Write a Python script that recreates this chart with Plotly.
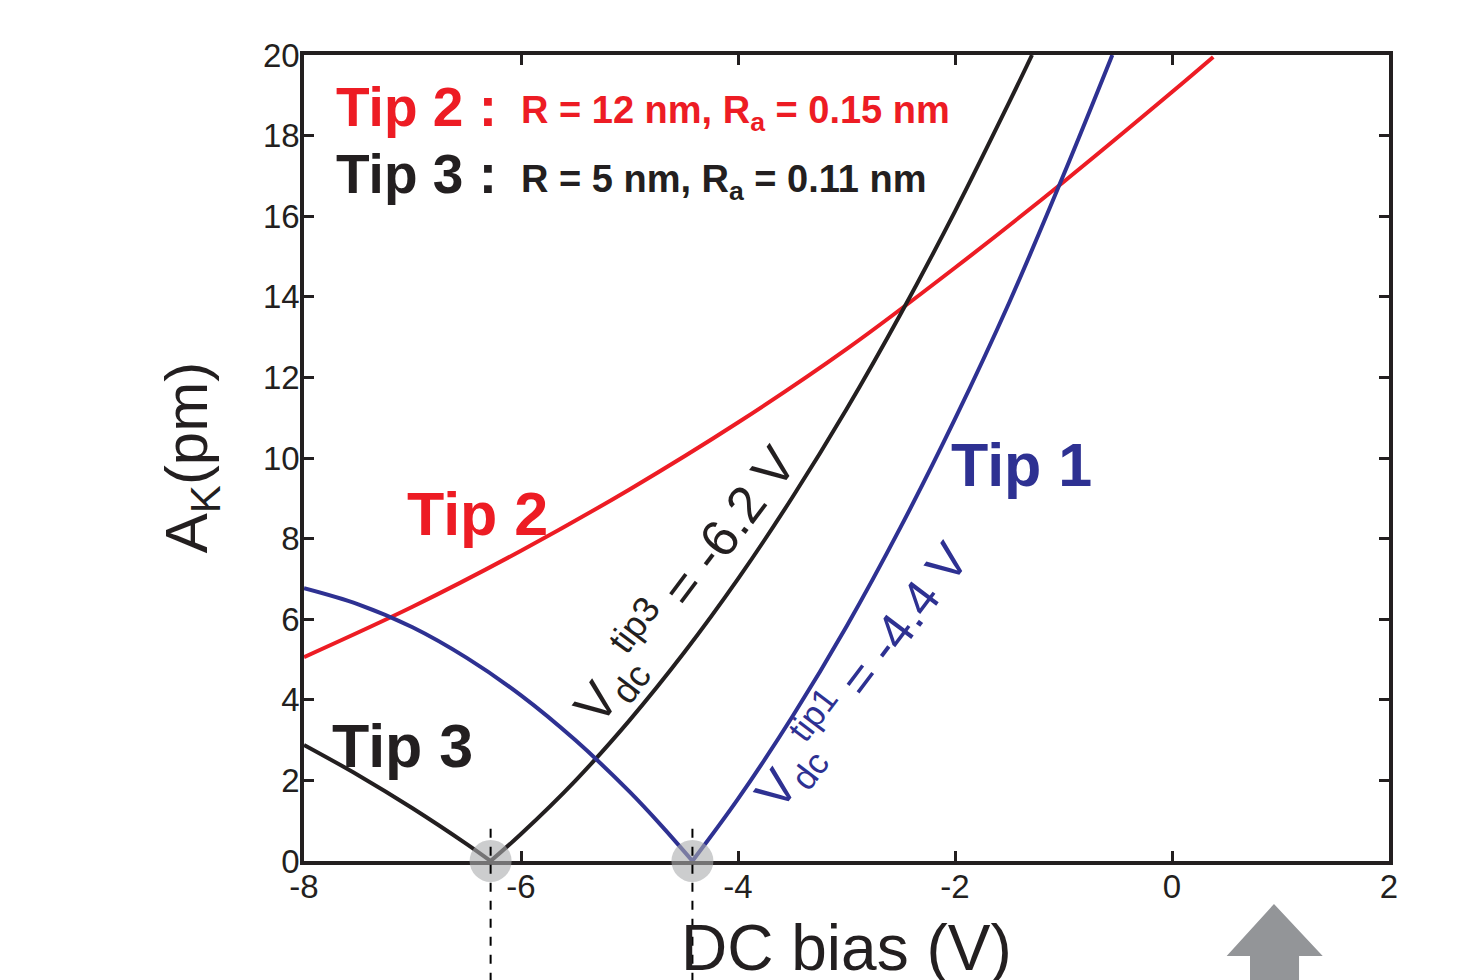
import plotly.graph_objects as go

# ---- data ----
tip1_left_x = [-8.0, -7.5, -7.0, -6.5, -6.0, -5.5, -5.0, -4.7, -4.42]
tip1_left_y = [6.77, 6.37, 5.80, 5.04, 4.11, 3.00, 1.72, 0.86, 0.0]
tip1_right_x = [-4.42, -4.0, -3.5, -3.0, -2.5, -2.0, -1.5, -1.0, -0.55]
tip1_right_y = [0.0, 1.54, 3.58, 5.82, 8.29, 10.97, 13.86, 17.02, 20.0]

tip3_left_x = [-8.0, -7.5, -7.0, -6.5, -6.28]
tip3_left_y = [2.88, 2.13, 1.31, 0.42, 0.0]
tip3_right_x = [-6.28, -6.0, -5.5, -5.0, -4.5, -4.0, -3.5, -3.0, -2.5, -2.0, -1.5, -1.29]
tip3_right_y = [0.0, 0.67, 1.99, 3.49, 5.16, 7.00, 9.02, 11.21, 13.58, 16.12, 18.83, 20.0]

tip2_x = [-8.0, -7.0, -6.0, -5.0, -4.0, -3.0, -2.0, -1.0, 0.0, 0.38]
tip2_y = [5.06, 6.31, 7.70, 9.22, 10.88, 12.70, 14.72, 16.85, 19.08, 19.95]

vmin_x = [-6.28, -4.42]
vmin_y = [0.0, 0.0]

x_ticks = [-8, -6, -4, -2, 0, 2]
y_ticks = [0, 2, 4, 6, 8, 10, 12, 14, 16, 18, 20]

RED = "#ED1C24"
BLUE = "#2E3192"
BLACK = "#231F20"
FONT = "Liberation Sans"

fig = go.Figure()

def add_line(x, y, color):
    fig.add_trace(go.Scatter(x=x, y=y, mode="lines",
                             line=dict(color=color, width=4, shape="spline", smoothing=1.0),
                             showlegend=False, hoverinfo="skip"))

add_line(tip2_x, tip2_y, RED)
add_line(tip3_left_x, tip3_left_y, BLACK)
add_line(tip3_right_x, tip3_right_y, BLACK)
add_line(tip1_left_x, tip1_left_y, BLUE)
add_line(tip1_right_x, tip1_right_y, BLUE)

fig.add_trace(go.Scatter(x=vmin_x, y=vmin_y, mode="markers", cliponaxis=False,
                         marker=dict(size=42, color="rgb(170,171,174)", opacity=0.6, line=dict(width=0)),
                         showlegend=False, hoverinfo="skip"))

# dashed vertical markers at the minima
for xv in vmin_x:
    fig.add_shape(type="line", xref="x", yref="paper", x0=xv, x1=xv, y0=0.040, y1=-0.17,
                  line=dict(color="black", width=2, dash="dash"))

# grey arrow at the bottom right
fig.add_shape(type="path", xref="paper", yref="paper",
              path="M 0.8940,-0.0533 L 0.9389,-0.1179 L 0.9171,-0.1179 L 0.9171,-0.17 "
                   "L 0.8719,-0.17 L 0.8719,-0.1179 L 0.8504,-0.1179 Z",
              fillcolor="#939598", line=dict(width=0))

def ann(text, x, y, size, color, bold=False, angle=0, xanchor="center", ref="data"):
    t = f"<b>{text}</b>" if bold else text
    d = dict(text=t, x=x, y=y, showarrow=False, textangle=angle,
             xanchor=xanchor, yanchor="middle",
             font=dict(family=FONT, size=size, color=color))
    if ref == "paper":
        d.update(xref="paper", yref="paper")
    else:
        d.update(xref="x", yref="y")
    fig.add_annotation(**d)

ann("Tip 2 :", -7.72, 18.72, 55, RED, bold=True, xanchor="left")
ann("R = 12 nm, R<sub>a</sub> = 0.15 nm", -6.02, 18.55, 38, RED, bold=True, xanchor="left")
ann("Tip 3 :", -7.72, 17.05, 55, BLACK, bold=True, xanchor="left")
ann("R = 5 nm, R<sub>a</sub> = 0.11 nm", -6.02, 16.85, 38, BLACK, bold=True, xanchor="left")

ann("Tip 2", -6.40, 8.6, 61, RED, bold=True)
ann("Tip 1", -1.39, 9.83, 61, BLUE, bold=True)
ann("Tip 3", -7.09, 2.85, 61, BLACK, bold=True)

ann("V<sub>dc</sub><sup>tip3</sup> = -6.2 V", -4.49, 6.85, 52, BLACK, angle=-53)
ann("V<sub>dc</sub><sup>tip1</sup> = -4.4 V", -2.86, 4.6, 50, BLUE, angle=-53)

# axis titles
ann("A<sub>K</sub>(pm)", -0.104, 0.5, 60, BLACK, angle=-90, ref="paper")
ann("DC bias (V)", 0.5, -0.108, 64, BLACK, ref="paper")

axis_common = dict(showgrid=False, zeroline=False, showline=True, linecolor=BLACK, linewidth=3.5,
                   mirror="ticks", ticks="inside", ticklen=10, tickwidth=2.5, tickcolor=BLACK,
                   tickfont=dict(family=FONT, size=33, color=BLACK), layer="below traces",
                   ticklabelstandoff=-6)

fig.update_xaxes(range=[-8, 2], tickmode="array", tickvals=x_ticks,
                 ticktext=[str(v) for v in x_ticks], **axis_common)
fig.update_yaxes(range=[0, 20], tickmode="array", tickvals=y_ticks,
                 ticktext=[str(v) for v in y_ticks], **axis_common)

fig.update_layout(width=1484, height=980, autosize=False,
                  margin=dict(l=296, r=103, t=47, b=127),
                  paper_bgcolor="white", plot_bgcolor="white",
                  font=dict(family=FONT, color=BLACK))

fig.write_html("out.html")
